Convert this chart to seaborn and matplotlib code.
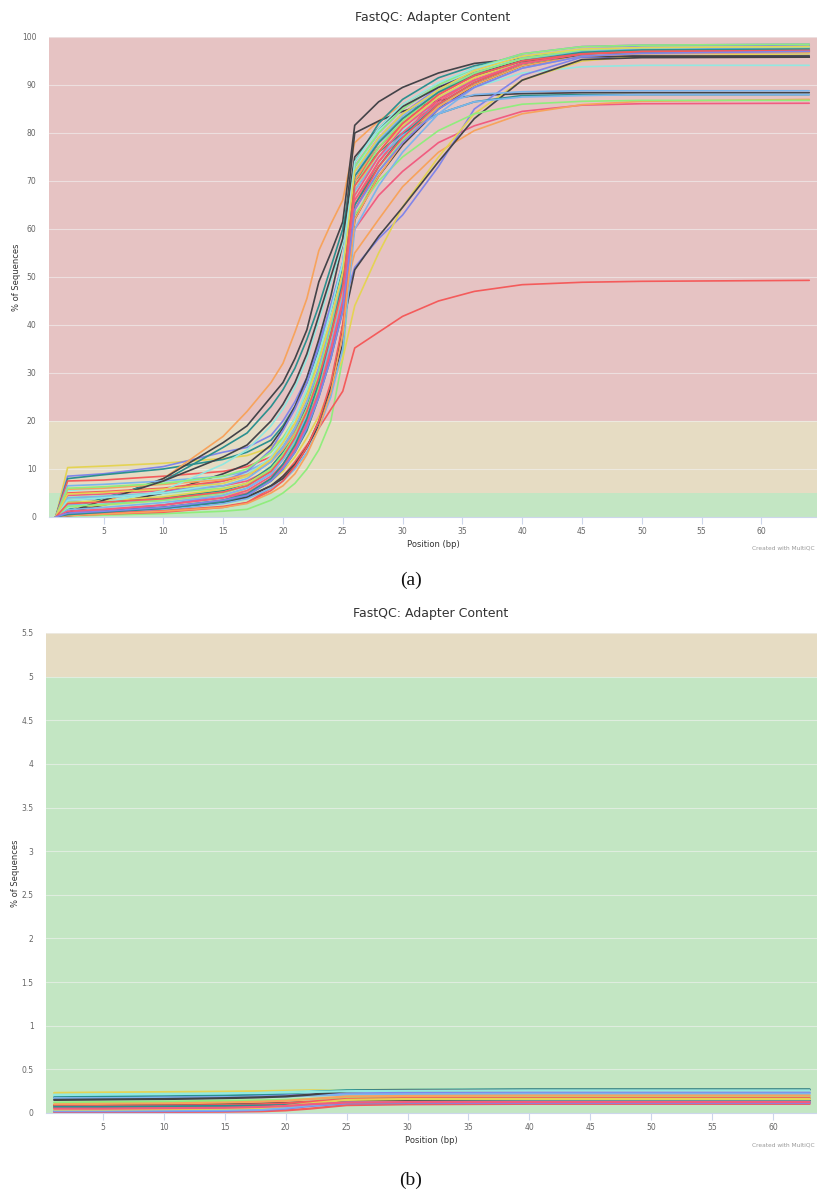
import numpy as np
import pandas as pd
import matplotlib
matplotlib.use("Agg")
import matplotlib.pyplot as plt
import seaborn as sns

# ---------------- data: panel (a) ----------------
pos_a = [1, 2, 5, 10, 15, 17, 19, 20, 21, 22, 23, 24, 25, 26, 28, 30, 33, 36, 40, 45, 50, 64]

a01 = [0, 10.3, 10.6, 11.2, 12.2, 12.8, 14.5, 16.5, 19.5, 23, 29, 36, 45, 66, 74, 80, 87, 91.5, 95, 97, 97.3, 97.5]
a02 = [0, 8.5, 9, 10.5, 13.5, 14.5, 17, 20, 24, 29, 36, 44, 53, 72, 79, 84, 89.5, 93, 96, 97.5, 98, 98.2]
a03 = [0, 8, 8.8, 10, 12, 13.5, 16, 19, 23, 28, 35, 43, 52, 70, 78, 83, 88.5, 92, 95, 96.5, 97, 97.2]
a04 = [0, 7.5, 7.7, 8.5, 9.5, 10.5, 12.5, 15, 18.5, 23, 29.5, 37, 46, 65, 74, 80, 87, 91.5, 95, 96.5, 96.8, 97]
a05 = [0, 1, 3, 8, 16.8, 22, 28, 32, 38.5, 45.5, 55.5, 61, 66, 78, 82.5, 86, 90, 93, 95.5, 96.5, 96.8, 97]
a06 = [0, 0.5, 3.5, 8, 15.5, 19, 25, 28, 33, 39, 49, 55, 61.5, 81.6, 86.5, 89.5, 92.5, 94.5, 95.5, 95.8, 95.8, 95.8]
a07 = [0, 1, 2.5, 5, 9, 11, 15, 18.5, 23, 29, 37, 46, 57, 80, 82.5, 84.5, 86.8, 87.8, 88.2, 88.4, 88.4, 88.4]
a08 = [0, 1.5, 4, 7.5, 14.5, 17.5, 23, 26.5, 31, 37, 44, 52, 60, 74, 82, 87, 91.5, 94, 96, 97, 97.2, 97.3]
a09 = [0, 5.5, 6, 7, 8, 9, 12, 15, 19, 24, 31, 39, 48, 67, 75, 80.5, 86, 89.5, 92.5, 93.8, 94.1, 94.1]
a10 = [0, 6.5, 6.8, 7.5, 8.5, 9.5, 12, 14.5, 18, 23, 30, 38.5, 48, 68, 76, 81.5, 87.5, 91, 94.5, 96.5, 97, 97.5]
a11 = [0, 0.2, 0.4, 0.7, 1.2, 1.6, 3.5, 5, 7, 10, 14, 20, 33, 62, 72, 78.5, 85.5, 90, 94, 96.5, 97.5, 98]
a12 = [0, 4.5, 4.8, 5.5, 6.5, 7.5, 10, 13, 17, 22, 29, 37, 46, 60, 67, 72, 78, 81.5, 84.5, 85.8, 86.1, 86.2]
a13 = [0, 0.3, 0.6, 1, 2, 3, 6, 8.5, 11.5, 15, 18.5, 22.4, 26.2, 35.2, 38.5, 41.8, 45, 47, 48.4, 48.9, 49.1, 49.3]
a14 = [0, 0.5, 1, 2, 3.5, 5, 8, 10.5, 14, 19, 26, 35, 45, 55, 62, 68.8, 76, 80.5, 84, 85.9, 86.6, 87]
a15 = [0, 0.5, 1.2, 2.5, 4.5, 6, 9, 12, 15.5, 20, 27, 35, 44, 52, 58, 62.9, 73, 85, 92, 95.8, 96, 96.2]
a16 = [0, 2, 2.5, 3.5, 4.5, 5.5, 7.5, 9.5, 12.5, 16.5, 21, 27, 33, 44, 55, 64.6, 75, 84, 91, 95, 96, 96.5]
a17 = [0, 0.3, 0.8, 1.5, 3, 4, 6.5, 8.5, 11, 14.5, 19, 26, 40, 51.5, 58.5, 64.5, 74, 83, 91, 95.3, 95.7, 95.8]
a18 = [0, 0.8, 1.2, 2, 3.2, 4.2, 6.5, 8, 10.5, 14.5, 20, 27, 36, 62, 71, 77.5, 85, 90, 94, 96, 96, 96]
a19 = [0, 3, 3.3, 4, 5.5, 7, 10.5, 13.5, 17.5, 23, 30, 39, 50, 70, 76, 80, 84, 86.5, 87.8, 88, 88, 88]
a20 = [0, 2.5, 2.8, 3.5, 5, 6.5, 9.5, 12.5, 16, 21, 28, 37, 48, 72, 78, 82, 86, 88, 88.6, 88.8, 88.8, 88.8]
a21 = [0, 4, 4.3, 5, 6, 7, 9.5, 12, 15.5, 20.5, 27, 35, 44, 63, 70, 75, 80.5, 84, 86, 86.6, 86.8, 86.8]
a22 = [0, 3.5, 4, 5, 7.5, 9.5, 14, 18, 22.5, 28, 35.5, 44, 53, 73, 80, 85, 90, 93.5, 96.5, 98, 98.3, 98.5]
a23 = [0, 5, 5.3, 6, 7.5, 8.5, 11.5, 14.5, 18.5, 24, 31, 40, 50, 70, 77, 82, 88, 92, 95, 96.5, 97, 97]
a24 = [0, 1, 1.5, 2.5, 4, 5.5, 8.5, 11, 14.5, 19.5, 26, 34, 44, 66, 74, 80, 86.5, 91, 94.5, 96.5, 97, 97.3]
a25 = [0, 3, 3.4, 4.2, 5.8, 7, 10, 13, 16.5, 21.5, 28.5, 37, 47, 68, 76, 81.5, 87.5, 91.5, 95, 97, 97.5, 97.8]
a26 = [0, 5.8, 6, 6.8, 7.8, 8.8, 11.5, 14, 17.5, 22.5, 29, 37, 46.5, 70, 78, 83, 88.5, 92.5, 95.5, 97, 97.3, 97.5]
a27 = [0, 2, 3, 5.5, 11, 14, 19, 22.5, 27, 33, 41, 49, 57, 72, 80.5, 85.5, 90, 93, 95.5, 96.8, 97, 97]
a28 = [0, 0.4, 0.8, 1.5, 2.8, 3.8, 6, 7.5, 10, 13.5, 18.5, 25, 35, 60, 69, 76, 84, 89.5, 93.5, 96, 96.5, 96.8]
a29 = [0, 6, 6.3, 7, 8.5, 10, 13.5, 16.5, 20.5, 26, 33, 41, 50, 73, 80, 85, 90, 93.5, 96.5, 98, 98.3, 98.5]
a30 = [0, 0.6, 1, 1.8, 3.2, 4.5, 7.5, 10, 13.5, 18, 25, 33, 43, 65, 73, 79.5, 86, 90.5, 94.5, 96.5, 96.8, 97]
a31 = [0, 1, 3.5, 7.5, 12.5, 15, 20, 23.5, 28, 34, 42, 50, 58, 75, 81, 85.5, 89.5, 92.5, 95, 96, 96, 96]
a32 = [0, 1.5, 2, 3, 4.5, 6, 9, 12, 16, 21, 28, 36, 46, 68, 75, 79.5, 84, 86.5, 87.5, 87.8, 88, 88]
a33 = [0, 0.5, 0.8, 1.3, 2.2, 3, 5.5, 7.5, 10.5, 14.5, 20, 28, 40, 64, 73, 79, 86, 90.5, 94.5, 96.5, 97, 97.2]
a34 = [0, 0.3, 0.6, 1.2, 2, 2.8, 5, 6.5, 9, 13, 18.5, 26, 38, 62, 71, 78, 85.5, 90, 94, 96, 96.5, 96.8]
a35 = [0, 4, 4.3, 5, 6.5, 8, 11.5, 14.5, 18.5, 24, 31, 40, 50, 71, 78.5, 83.5, 89, 92.5, 95.5, 97, 97.5, 97.8]
a36 = [0, 2.2, 2.6, 3.5, 5, 6.5, 10, 13, 17, 22.5, 30, 39, 49, 69, 77, 82.5, 88.5, 92.5, 95.5, 97.3, 97.8, 98]
a37 = [0, 1.2, 1.6, 2.5, 4, 5, 8, 10.5, 14, 19, 26, 35, 45, 67, 75, 81, 87, 91, 94.5, 96.5, 97, 97.2]
a38 = [0, 0.5, 1, 2, 3.5, 4.8, 8, 11, 15, 20.5, 28, 38, 49, 71, 78, 83, 88.5, 92, 95, 96.8, 97.3, 97.5]
a39 = [0, 3.5, 4, 5, 7, 8.5, 12.5, 16, 20.5, 26.5, 34, 43, 53, 74, 81, 86, 90.5, 93.5, 96, 97.5, 97.8, 98]
a40 = [0, 4.8, 5.1, 5.8, 7, 8.5, 12, 15.5, 19.5, 25, 32.5, 41, 51, 72, 79, 84, 89, 93, 96, 97.5, 97.8, 98]
a41 = [0, 2.8, 3.1, 3.8, 5.2, 6.5, 9.5, 12.5, 16.5, 22, 29, 38, 48, 69, 76, 82, 88, 92, 95, 96.5, 97, 97.2]
a42 = [0, 0.8, 1.2, 2, 3.5, 4.5, 7.5, 10, 13.5, 18.5, 25, 33, 43, 64, 72, 78, 85, 89.5, 93.5, 96, 96.6, 97]

series_a = [a01, a02, a03, a04, a05, a06, a07, a08, a09, a10, a11, a12, a13, a14, a15, a16, a17,
            a18, a19, a20, a21, a22, a23, a24, a25, a26, a27, a28, a29, a30, a31, a32, a33, a34,
            a35, a36, a37, a38, a39, a40, a41, a42]

# ---------------- data: panel (b) ----------------
pos_b = [1, 5, 10, 15, 18, 20, 22, 25, 30, 40, 63]

b01 = [0.23, 0.235, 0.24, 0.245, 0.25, 0.255, 0.26, 0.262, 0.265, 0.265, 0.265]
b02 = [0.20, 0.205, 0.21, 0.22, 0.23, 0.24, 0.25, 0.26, 0.265, 0.27, 0.27]
b03 = [0.18, 0.185, 0.19, 0.20, 0.21, 0.22, 0.24, 0.26, 0.265, 0.27, 0.27]
b04 = [0.16, 0.165, 0.175, 0.18, 0.19, 0.20, 0.21, 0.225, 0.23, 0.235, 0.235]
b05 = [0.17, 0.17, 0.175, 0.18, 0.185, 0.19, 0.20, 0.21, 0.215, 0.22, 0.22]
b06 = [0.15, 0.155, 0.16, 0.17, 0.18, 0.19, 0.21, 0.25, 0.26, 0.265, 0.265]
b07 = [0.09, 0.095, 0.10, 0.105, 0.11, 0.115, 0.125, 0.135, 0.14, 0.14, 0.14]
b08 = [0.12, 0.125, 0.13, 0.14, 0.145, 0.15, 0.16, 0.175, 0.18, 0.185, 0.185]
b09 = [0.10, 0.105, 0.11, 0.12, 0.13, 0.14, 0.16, 0.19, 0.195, 0.20, 0.20]
b10 = [0.08, 0.08, 0.085, 0.09, 0.10, 0.11, 0.13, 0.16, 0.17, 0.17, 0.17]
b11 = [0.06, 0.065, 0.07, 0.075, 0.08, 0.09, 0.10, 0.115, 0.12, 0.12, 0.12]
b12 = [0.01, 0.01, 0.012, 0.015, 0.02, 0.03, 0.05, 0.09, 0.10, 0.105, 0.105]
b13 = [0.02, 0.02, 0.022, 0.025, 0.035, 0.05, 0.08, 0.11, 0.115, 0.115, 0.115]
b14 = [0.07, 0.07, 0.075, 0.08, 0.085, 0.09, 0.10, 0.12, 0.125, 0.13, 0.13]
b15 = [0.03, 0.03, 0.032, 0.035, 0.04, 0.06, 0.09, 0.12, 0.125, 0.13, 0.13]
b16 = [0.04, 0.04, 0.045, 0.05, 0.06, 0.08, 0.11, 0.15, 0.16, 0.16, 0.16]
b17 = [0.21, 0.215, 0.22, 0.225, 0.23, 0.235, 0.24, 0.25, 0.255, 0.26, 0.26]
b18 = [0.05, 0.05, 0.055, 0.06, 0.07, 0.08, 0.10, 0.12, 0.125, 0.125, 0.125]

series_b = [b01, b02, b03, b04, b05, b06, b07, b08, b09, b10, b11, b12, b13, b14, b15, b16, b17, b18]

yticks_a = [0, 10, 20, 30, 40, 50, 60, 70, 80, 90, 100]
yticks_b = [0, 0.5, 1, 1.5, 2, 2.5, 3, 3.5, 4, 4.5, 5, 5.5]
ylabels_b = ["0", "0.5", "1", "1.5", "2", "2.5", "3", "3.5", "4", "4.5", "5", "5.5"]
xticks = [5, 10, 15, 20, 25, 30, 35, 40, 45, 50, 55, 60]

# ---------------- style ----------------
HC = {"lb": "#7cb5ec", "dk": "#434348", "gr": "#90ed7d", "or": "#f7a35c", "pu": "#8085e9",
      "pk": "#f15c80", "ye": "#e4d354", "te": "#2b908f", "rd": "#f45b5b", "cy": "#91e8e1"}
col_a = ["ye", "pu", "te", "rd", "or", "dk", "dk", "te", "cy", "lb", "gr", "pk", "rd", "or", "pu",
         "ye", "dk", "dk", "te", "lb", "gr", "pu", "rd", "pk", "ye", "or", "cy", "lb", "gr", "te",
         "dk", "lb", "rd", "or", "lb", "gr", "pk", "te", "cy", "ye", "rd", "pu"]
col_b = ["ye", "cy", "te", "pu", "lb", "dk", "dk", "gr", "or", "rd", "pk", "rd", "pu", "te", "lb",
         "ye", "cy", "pk"]


def make_df(pos, series, prefix):
    rows = []
    for i, s in enumerate(series):
        for p, v in zip(pos, s):
            rows.append({"sample": f"{prefix}{i:02d}", "pos": p, "pct": v})
    return pd.DataFrame(rows)


df_a = make_df(pos_a, series_a, "a")
df_b = make_df(pos_b, series_b, "b")

sns.set_theme(style="white")
plt.rcParams["font.family"] = ["DejaVu Sans"]

W, H = 817, 1194
fig = plt.figure(figsize=(W / 100, H / 100), dpi=100)

ax_a = fig.add_axes([49 / W, 1 - 517 / H, (817 - 49) / W, (517 - 37) / H])
ax_b = fig.add_axes([46 / W, 1 - 1113 / H, (817 - 46) / W, (1113 - 633) / H])

green, tan, red = "#c3e6c3", "#e6dcc3", "#e6c3c3"


def style_axes(ax, ymax, yt, ylabels, xlim, warn, fail):
    ax.axhspan(0, warn, color=green, zorder=0, lw=0)
    ax.axhspan(warn, fail, color=tan, zorder=0, lw=0)
    if fail < ymax:
        ax.axhspan(fail, ymax, color=red, zorder=0, lw=0)
    for y in yt:
        ax.axhline(y, color="#f2f2f2", lw=0.8, alpha=0.6, zorder=0.5)
    ax.set_xlim(*xlim)
    ax.set_ylim(0, ymax)
    ax.set_yticks(yt)
    ax.set_yticklabels(ylabels)
    ax.set_xticks(xticks)
    ax.set_xticklabels([str(t) for t in xticks])
    for s in ["top", "right", "left"]:
        ax.spines[s].set_visible(False)
    ax.spines["bottom"].set_color("#ccd6eb")
    ax.spines["bottom"].set_linewidth(0.8)
    ax.tick_params(axis="x", colors="#ccd6eb", length=5, width=0.8, direction="out",
                   labelcolor="#666666", labelsize=5.5, pad=2, bottom=True)
    ax.tick_params(axis="y", length=0, labelcolor="#666666", labelsize=5.5, pad=9)
    ax.set_xlabel("Position (bp)", fontsize=6, color="#333333", labelpad=3)
    ax.set_ylabel("% of Sequences", fontsize=6, color="#333333", labelpad=1)
    ax.grid(False)


sns.lineplot(data=df_a, x="pos", y="pct", hue="sample", palette=[HC[c] for c in col_a],
             legend=False, linewidth=1.2, errorbar=None, ax=ax_a, zorder=2)
sns.lineplot(data=df_b, x="pos", y="pct", hue="sample", palette=[HC[c] for c in col_b],
             legend=False, linewidth=1.6, errorbar=None, ax=ax_b, zorder=2)

style_axes(ax_a, 100, yticks_a, [str(t) for t in yticks_a], (0.44, 64.65), 5, 20)
style_axes(ax_b, 5.5, yticks_b, ylabels_b, (0.33, 63.6), 5, 20)

# titles and annotations
fig.text(433 / W, 1 - 17 / H, "FastQC: Adapter Content", ha="center", va="center",
         fontsize=9, color="#333333")
fig.text(431 / W, 1 - 613 / H, "FastQC: Adapter Content", ha="center", va="center",
         fontsize=9, color="#333333")
fig.text(815 / W, 1 - 548 / H, "Created with MultiQC", ha="right", va="center",
         fontsize=4.2, color="#999999")
fig.text(815 / W, 1 - 1145 / H, "Created with MultiQC", ha="right", va="center",
         fontsize=4.2, color="#999999")
fig.text(411 / W, 1 - 580 / H, "(a)", ha="center", va="center", fontsize=14,
         family=["Liberation Serif"], color="#111111")
fig.text(411 / W, 1 - 1180 / H, "(b)", ha="center", va="center", fontsize=14,
         family=["Liberation Serif"], color="#111111")

fig.savefig("out.png", dpi=100, facecolor="white")
